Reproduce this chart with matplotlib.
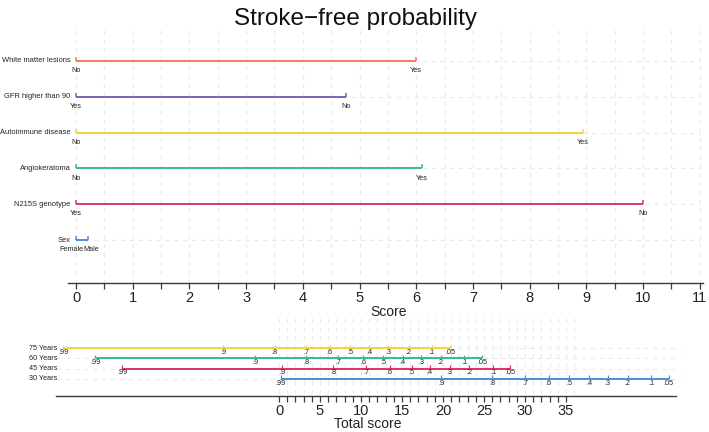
import numpy as np
import matplotlib
matplotlib.use("Agg")
import matplotlib.pyplot as plt
from matplotlib.transforms import blended_transform_factory

plt.rcParams['font.family'] = ['Liberation Sans', 'DejaVu Sans']

# ---------------- data ----------------
variables = ["White matter lesions", "GFR higher than 90", "Autoimmune disease",
             "Angiokeratoma", "N215S genotype", "Sex"]
level_names = [["No", "Yes"], ["Yes", "No"], ["No", "Yes"],
               ["No", "Yes"], ["Yes", "No"], ["Female", "Male"]]
level_points = [[0, 6.0], [0, 4.76], [0, 8.94], [0, 6.1], [0, 10.0], [0, 0.22]]
var_colors = ["#F47C5E", "#7F62B0", "#F2D43C", "#35BE88", "#D23A6C", "#4A8FD8"]
score_ticks = list(range(0, 12))

ages = ["75 Years", "60 Years", "45 Years", "30 Years"]
age_colors = ["#F2D43C", "#35BE88", "#DA3464", "#4A8FD8"]
prob_labels = [".99", ".9", ".8", ".7", ".6", ".5", ".4", ".3", ".2", ".1", ".05"]
surv_75 = [-26.3, -6.8, -0.5, 3.3, 6.2, 8.7, 11.0, 13.3, 15.8, 18.6, 20.9]
surv_60 = [-22.4, -2.9, 3.3, 7.2, 10.3, 12.7, 15.1, 17.3, 19.7, 22.6, 24.8]
surv_45 = [-19.1, 0.4, 6.6, 10.6, 13.5, 16.2, 18.4, 20.8, 23.2, 26.1, 28.2]
surv_30 = [0.2, 19.8, 26.0, 30.0, 32.9, 35.4, 37.8, 40.1, 42.5, 45.4, 47.5]
surv_all = [surv_75, surv_60, surv_45, surv_30]
total_ticks = [0, 5, 10, 15, 20, 25, 30, 35]

# ---------------- layout ----------------
W, H = 709, 432
fig = plt.figure(figsize=(W / 100, H / 100), dpi=100)
GRID = dict(color="#EAEAEA", lw=0.8, linestyle=(0, (4, 4)), zorder=0)
AXC = "#3A3A3A"
TXT = "#222222"

# top panel geometry (pixels)
t_x0, t_ppu = 76.0, 56.7
t_top, t_bot = 30.0, 283.0
t_row0, t_rowstep = 61.0, 35.8
ax = fig.add_axes([0, 1 - t_bot / H, 1, (t_bot - t_top) / H])
ax.set_xlim(-t_x0 / t_ppu, (W - t_x0) / t_ppu)
ax.set_ylim((t_bot - t_row0) / t_rowstep, (t_top - t_row0) / t_rowstep)
rows = np.arange(len(variables))
ylo, yhi = ax.get_ylim()

for x in np.arange(0, score_ticks[-1] + 0.01, 0.5):
    ax.vlines(x, yhi, ylo, **GRID)
for r in rows:
    ax.hlines(r, 0, score_ticks[-1], **GRID)

# horizontal nudges (points) for crowded level labels
label_nudge = {("Sex", "Female"): -3.6, ("Sex", "Male"): 1.8}

tick_h = 4.0 / t_rowstep
for r, name, lv, pts, c in zip(rows, variables, level_names, level_points, var_colors):
    ax.plot([min(pts), max(pts)], [r, r], color=c, lw=1.4, solid_capstyle="butt", zorder=3)
    ax.vlines(pts, r, r - tick_h, color=c, lw=1.1, zorder=3)
    ax.annotate(name, (0, r), xytext=(-4, 0), textcoords="offset points",
                ha="right", va="center", fontsize=5.4, color=TXT)
    for p, l in zip(pts, lv):
        dx = label_nudge.get((name, l), 0)
        ax.annotate(l, (p, r), xytext=(dx, -4.5), textcoords="offset points",
                    ha="center", va="top", fontsize=5.2, color=TXT)

for s in ["top", "right", "left"]:
    ax.spines[s].set_visible(False)
ax.spines["bottom"].set_bounds((68 - t_x0) / t_ppu, (703 - t_x0) / t_ppu)
ax.spines["bottom"].set_color(AXC)
ax.spines["bottom"].set_linewidth(1.0)
ax.set_yticks([])
ax.set_xticks(score_ticks)
ax.set_xticks(np.arange(0.5, score_ticks[-1], 1), minor=True)
ax.tick_params(axis="x", which="both", length=4, width=0.9, color=AXC, labelsize=10.5,
               pad=1.5, labelcolor=TXT)
ax.set_facecolor("none")

fig.text(389 / W, 1 - 312 / H, "Score", ha="center", va="center", fontsize=10, color=TXT)

# bottom panel geometry (pixels)
b_x0, b_ppu = 279.0, 8.2
b_top, b_bot = 318.0, 396.0
b_row0, b_rowstep = 348.0, 10.33
bx = fig.add_axes([0, 1 - b_bot / H, 1, (b_bot - b_top) / H])
bx.set_xlim(-b_x0 / b_ppu, (W - b_x0) / b_ppu)
bx.set_ylim((b_bot - b_row0) / b_rowstep, (b_top - b_row0) / b_rowstep)
brows = np.arange(len(ages))
bylo, byhi = bx.get_ylim()

for x in np.arange(0, 37, 1):
    bx.vlines(x, byhi, bylo, **GRID)
for r in brows:
    bx.axhline(r, xmin=57 / W, xmax=680 / W, **GRID)

btick_h = 3.5 / b_rowstep
trans = blended_transform_factory(bx.transAxes, bx.transData)
for r, name, vals, c in zip(brows, ages, surv_all, age_colors):
    bx.plot([vals[0], vals[-1]], [r, r], color=c, lw=1.4, solid_capstyle="butt", zorder=3)
    bx.vlines(vals, r, r - btick_h, color=c, lw=0.9, zorder=3)
    bx.text(57 / W, r, name, transform=trans, ha="right", va="center",
            fontsize=5.2, color=TXT)
    for v, l in zip(vals, prob_labels):
        bx.annotate(l, (v, r), xytext=(0, -0.6), textcoords="offset points",
                    ha="center", va="top", fontsize=5.2, color=TXT, zorder=4)

for s in ["top", "right", "left"]:
    bx.spines[s].set_visible(False)
bx.spines["bottom"].set_bounds((56 - b_x0) / b_ppu, (676 - b_x0) / b_ppu)
bx.spines["bottom"].set_color(AXC)
bx.spines["bottom"].set_linewidth(1.0)
bx.set_yticks([])
bx.set_xticks(total_ticks)
bx.set_xticks([m for m in range(0, 36) if m not in total_ticks], minor=True)
bx.tick_params(axis="x", which="both", length=4, width=0.9, color=AXC, labelsize=10.5,
               pad=1.5, labelcolor=TXT)
bx.set_facecolor("none")

fig.text(368 / W, 1 - 424 / H, "Total score", ha="center", va="center", fontsize=10, color=TXT)

fig.text(355 / W, 1 - 19 / H, "Stroke\u2212free probability", ha="center", va="center",
         fontsize=17.5, color="#111111")

fig.savefig("out.png", dpi=100)
